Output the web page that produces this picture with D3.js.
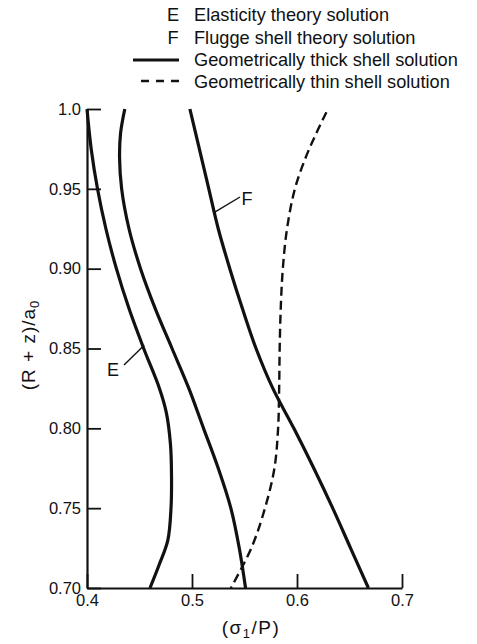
<!DOCTYPE html>
<html>
<head>
<meta charset="utf-8">
<script src="https://cdn.jsdelivr.net/npm/d3@7"></script>
<style>
  html, body { margin: 0; padding: 0; background: #fff; }
  svg { display: block; }
  text { font-family: "Liberation Sans", Arial, sans-serif; fill: #111; }
</style>
</head>
<body>
<svg id="chart" width="477" height="644"></svg>
<script>
// (R + z)/a0 levels and sigma1/P values for each solution curve
const elasticityY = [1.0, 0.975, 0.95, 0.925, 0.90, 0.875, 0.85, 0.825, 0.81, 0.79, 0.77, 0.75, 0.73, 0.715, 0.70];
const elasticityX = [0.400, 0.404, 0.410, 0.418, 0.428, 0.440, 0.454, 0.469, 0.4755, 0.4795, 0.4805, 0.480, 0.477, 0.469, 0.460];

const thickY = [1.0, 0.985, 0.97, 0.95, 0.925, 0.90, 0.875, 0.85, 0.825, 0.80, 0.775, 0.75, 0.725, 0.70];
const thickX = [0.436, 0.432, 0.431, 0.433, 0.440, 0.451, 0.465, 0.481, 0.497, 0.511, 0.525, 0.537, 0.545, 0.551];

const fluggeY = [1.0, 0.975, 0.95, 0.925, 0.90, 0.875, 0.85, 0.825, 0.80, 0.775, 0.75, 0.725, 0.70];
const fluggeX = [0.498, 0.507, 0.516, 0.525, 0.536, 0.548, 0.561, 0.577, 0.597, 0.616, 0.634, 0.651, 0.668];

const thinY = [0.998, 0.985, 0.97, 0.95, 0.925, 0.90, 0.875, 0.85, 0.825, 0.80, 0.775, 0.75, 0.725, 0.70];
const thinX = [0.628, 0.6185, 0.6085, 0.598, 0.5905, 0.5865, 0.5845, 0.5835, 0.583, 0.582, 0.5785, 0.5695, 0.5565, 0.537];

const yTicks = [0.70, 0.75, 0.80, 0.85, 0.90, 0.95, 1.0];
const yTickLabels = ["0.70", "0.75", "0.80", "0.85", "0.90", "0.95", "1.0"];
const xTicks = [0.4, 0.5, 0.6, 0.7];
const xTickLabels = ["0.4", "0.5", "0.6", "0.7"];

const legendKeys = ["E", "F", "", ""];
const legendTexts = [
  "Elasticity theory solution",
  "Flugge shell theory solution",
  "Geometrically thick shell solution",
  "Geometrically thin shell solution"
];

const svg = d3.select("#chart");

const x = d3.scaleLinear().domain([0.4, 0.7]).range([87, 402]);
const y = d3.scaleLinear().domain([0.7, 1.0]).range([588, 109]);

// axes: ticks point into the plot
const yAxis = d3.axisLeft(y)
  .tickValues(yTicks)
  .tickFormat((d, i) => yTickLabels[i])
  .tickSizeInner(-14).tickSizeOuter(0).tickPadding(6);
const xAxis = d3.axisBottom(x)
  .tickValues(xTicks)
  .tickFormat((d, i) => xTickLabels[i])
  .tickSizeInner(-14).tickSizeOuter(0).tickPadding(6);

const gy = svg.append("g").attr("transform", "translate(87,0)").call(yAxis);
const gx = svg.append("g").attr("transform", "translate(0,588)").call(xAxis);
[gy, gx].forEach(g => {
  g.selectAll("path.domain").attr("stroke", "#111").attr("stroke-width", 2.2);
  g.selectAll(".tick line").attr("stroke", "#111").attr("stroke-width", 1.8);
  g.selectAll(".tick text")
    .attr("font-family", "Liberation Sans, Arial, sans-serif")
    .attr("font-size", 16.5).attr("fill", "#111");
});

// curves
const line = d3.line()
  .x(d => x(d[0]))
  .y(d => y(d[1]))
  .curve(d3.curveCatmullRom.alpha(0.5));

const pairs = (xs, ys) => xs.map((v, i) => [v, ys[i]]);

const series = [
  { pts: pairs(elasticityX, elasticityY), dash: null },
  { pts: pairs(thickX, thickY), dash: null },
  { pts: pairs(fluggeX, fluggeY), dash: null },
  { pts: pairs(thinX, thinY), dash: "9,5" }
];

svg.append("g").selectAll("path")
  .data(series)
  .join("path")
  .attr("d", d => line(d.pts))
  .attr("fill", "none")
  .attr("stroke", "#111")
  .attr("stroke-width", d => d.dash ? 2.4 : 3.2)
  .attr("stroke-dasharray", d => d.dash)
  .attr("stroke-linecap", "butt");

// curve labels with leader lines
const labels = [
  { t: "E", at: [0.4545, 0.852], from: [124, 365], tx: 113, ty: 376 },
  { t: "F", at: [0.5205, 0.935], from: [240, 197], tx: 247, ty: 205 }
];
labels.forEach(l => {
  svg.append("line")
    .attr("x1", l.from[0]).attr("y1", l.from[1])
    .attr("x2", x(l.at[0])).attr("y2", y(l.at[1]))
    .attr("stroke", "#111").attr("stroke-width", 1.4);
  svg.append("text")
    .attr("x", l.tx).attr("y", l.ty)
    .attr("text-anchor", "middle")
    .attr("font-size", 18)
    .text(l.t);
});

// legend
const legendRowY = [15, 38, 60, 82];
const lg = svg.append("g");
legendTexts.forEach((t, i) => {
  lg.append("text")
    .attr("x", 194).attr("y", legendRowY[i] + 6)
    .attr("font-size", 18.2)
    .text(t);
  if (legendKeys[i]) {
    lg.append("text")
      .attr("x", 173).attr("y", legendRowY[i] + 6)
      .attr("text-anchor", "middle")
      .attr("font-size", 18.2)
      .text(legendKeys[i]);
  }
});
lg.append("line")
  .attr("x1", 133).attr("x2", 179)
  .attr("y1", legendRowY[2]).attr("y2", legendRowY[2])
  .attr("stroke", "#111").attr("stroke-width", 3.2);
lg.append("line")
  .attr("x1", 141).attr("x2", 179)
  .attr("y1", legendRowY[3] - 1).attr("y2", legendRowY[3] - 1)
  .attr("stroke", "#111").attr("stroke-width", 2.4)
  .attr("stroke-dasharray", "8,7");

// axis titles
const yt = svg.append("text")
  .attr("transform", "translate(35,345) rotate(-90)")
  .attr("text-anchor", "middle")
  .attr("font-size", 19)
  .attr("letter-spacing", 1);
yt.append("tspan").text("(R + z)/a");
yt.append("tspan").attr("font-size", 13).attr("dy", 4).text("0");

const xt = svg.append("text")
  .attr("x", 251).attr("y", 634)
  .attr("text-anchor", "middle")
  .attr("font-size", 19)
  .attr("letter-spacing", 1.5);
xt.append("tspan").text("(σ");
xt.append("tspan").attr("font-size", 13).attr("dy", 4).text("1");
xt.append("tspan").attr("dy", -4).text("/P)");
</script>
</body>
</html>
